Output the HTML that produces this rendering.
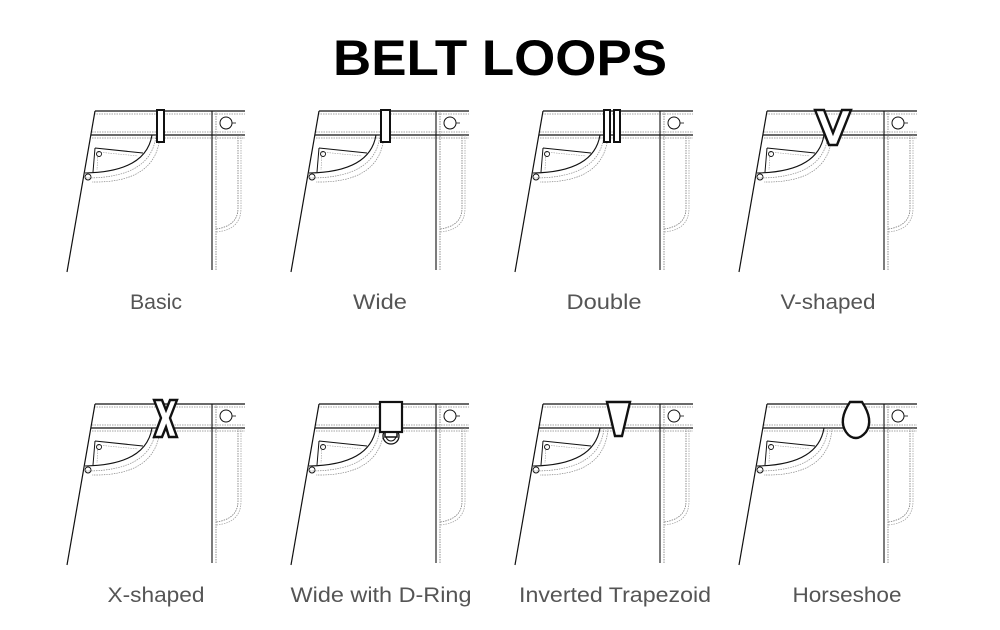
<!DOCTYPE html>
<html><head><style>
html,body{margin:0;padding:0;background:#fff;}
svg{display:block;}
</style></head><body>
<svg width="1000" height="630" viewBox="0 0 1000 630" xmlns="http://www.w3.org/2000/svg">
<defs>
<g id="j" fill="none" stroke="#111">
  <path d="M95,111 H245 M91,135 H245" stroke-width="1.2"/>
  <path d="M94,114 H245 M92,132 H245 M92,138 H245" stroke="#888" stroke-width="0.8" stroke-dasharray="1.5,1"/>
  <path d="M95,111 L67,272" stroke-width="1.2"/>
  <path d="M212,111 V270" stroke-width="1.1"/>
  <path d="M216,111 V270" stroke="#777" stroke-width="0.8" stroke-dasharray="1.5,1"/>
  <circle cx="226" cy="123" r="6" stroke-width="1"/>
  <path d="M232,123 H236" stroke-width="0.8"/>
  <path d="M238,135 V208 Q238,226 216,229" stroke="#777" stroke-width="0.8" stroke-dasharray="1.5,1"/>
  <path d="M241,135 V208 Q241,230 216,232" stroke="#999" stroke-width="0.7" stroke-dasharray="1.5,1"/>
  <path d="M152,135 Q146,172 85,173" stroke-width="1.1"/>
  <path d="M156,135 Q152,178 86,178 M160,135 Q157,183 92,182" stroke="#888" stroke-width="0.7" stroke-dasharray="1.5,1"/>
  <path d="M95,148 L143,153 M95,148 L93,172" stroke-width="1"/>
  <path d="M98,152 L138,156 M98,152 L97,170" stroke="#999" stroke-width="0.6" stroke-dasharray="1.5,1"/>
  <circle cx="99" cy="154" r="2.5" stroke-width="0.9"/>
  <circle cx="88" cy="177" r="3" stroke-width="0.9"/>
</g>
</defs>
<text x="500" y="75" text-anchor="middle" font-family="Liberation Sans, sans-serif" font-weight="bold" font-size="50" fill="#000" textLength="334" lengthAdjust="spacingAndGlyphs">BELT LOOPS</text>
<use href="#j"/>
<use href="#j" x="224"/>
<use href="#j" x="448"/>
<use href="#j" x="672"/>
<use href="#j" y="293"/>
<use href="#j" x="224" y="293"/>
<use href="#j" x="448" y="293"/>
<use href="#j" x="672" y="293"/>
<g fill="#fff" stroke="#111" stroke-width="2">
  <rect x="157" y="110" width="7" height="32"/>
  <rect x="381" y="110" width="9" height="32"/>
  <rect x="604" y="110" width="6" height="32"/>
  <rect x="614" y="110" width="6" height="32"/>
  <path d="M815,110 H824 L833,133 L842,110 H851 L837,145 H829 Z" stroke-width="2.4"/>
  <path d="M154,400 H162 L166,410 L170,400 H177 L170,418 L177,437 H169 L166,427 L162,437 H154 L161,418 Z" stroke-width="2.4"/>
  <circle cx="391" cy="436" r="8" stroke-width="1.3"/>
  <circle cx="391" cy="436" r="5" stroke-width="1"/>
  <rect x="385" y="430" width="12" height="7" stroke-width="1.5"/>
  <rect x="380" y="402" width="22" height="30" stroke-width="2.2"/>
  <path d="M607,402 H630 L622,436 H615 Z" stroke-width="2.4"/>
  <path d="M850,402 H862 Q874,420 866,432 Q861,438 856,438 Q850,438 846,432 Q838,420 850,402 Z" stroke-width="2.4"/>
</g>
<g font-family="Liberation Sans, sans-serif" font-size="21" fill="#555" text-anchor="middle">
  <text x="156" y="309" textLength="52" lengthAdjust="spacingAndGlyphs">Basic</text>
  <text x="380" y="309" textLength="54" lengthAdjust="spacingAndGlyphs">Wide</text>
  <text x="604" y="309" textLength="75" lengthAdjust="spacingAndGlyphs">Double</text>
  <text x="828" y="309" textLength="95" lengthAdjust="spacingAndGlyphs">V-shaped</text>
  <text x="156" y="602" textLength="97" lengthAdjust="spacingAndGlyphs">X-shaped</text>
  <text x="381" y="602" textLength="181" lengthAdjust="spacingAndGlyphs">Wide with D-Ring</text>
  <text x="615" y="602" textLength="192" lengthAdjust="spacingAndGlyphs">Inverted Trapezoid</text>
  <text x="847" y="602" textLength="109" lengthAdjust="spacingAndGlyphs">Horseshoe</text>
</g>
</svg>
</body></html>
